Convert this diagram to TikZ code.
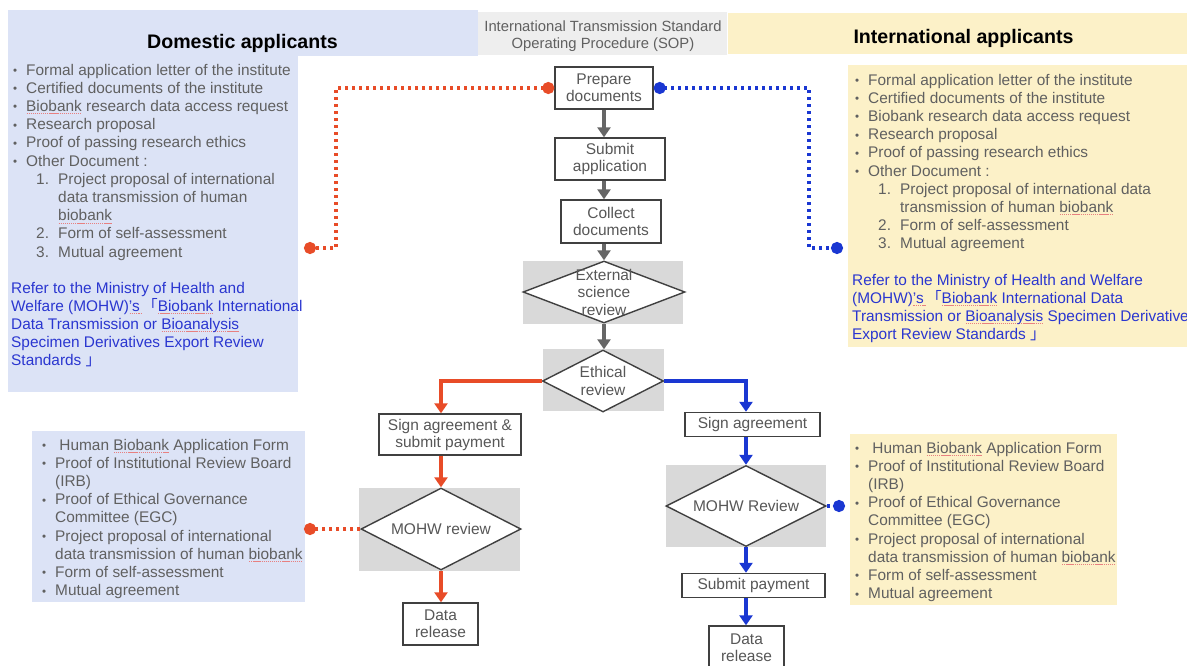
\documentclass[tikz,border=0pt]{standalone}
\usepackage{graphicx}
\usepackage{fontspec}
\setmainfont{Liberation Sans}
\newfontfamily\cjk{Noto Sans CJK SC}
\usetikzlibrary{arrows.meta,shapes.geometric,calc}
\definecolor{pblue}{HTML}{DCE3F6}
\definecolor{pyel}{HTML}{FCF1C8}
\definecolor{sopgrey}{HTML}{EEEEEE}
\definecolor{dgrey}{HTML}{D9D9D9}
\definecolor{txt}{HTML}{606060}
\definecolor{boxtxt}{HTML}{575757}
\definecolor{btxt}{HTML}{2A36D0}
\definecolor{cred}{HTML}{E84C28}
\definecolor{cblue}{HTML}{1A37D2}
\definecolor{garr}{HTML}{666666}
\definecolor{bord}{HTML}{404040}
\definecolor{spell}{HTML}{E88080}
\newsavebox\splbox
\newcommand\spl[1]{\sbox\splbox{#1}\rlap{\textcolor{spell}{\hbox to \wd\splbox{\xleaders\hbox to 2pt{\hss\rule[-2.8pt]{1.3pt}{0.9pt}\hss}\hfill}}}\usebox\splbox}
\newcommand\bitem[1]{\hbox{\makebox[13pt][l]{\raisebox{0.5pt}{\scalebox{0.75}{\textbullet}}}#1}}
\newcommand\numl[2]{\hbox{\hspace*{23pt}\makebox[22pt][l]{#1}#2}}
\newcommand\contl[1]{\hbox{\hspace*{45pt}#1}}
\newcommand\indl[1]{\hbox{\hspace*{13pt}#1}}
\newcommand\plainl[1]{\hbox{#1}}
\begin{document}
\begin{tikzpicture}[x=1pt,y=-1pt,
  lst/.style={inner sep=0pt, text=txt, font=\fontsize{15.4pt}{18.2pt}\selectfont},
  hdr/.style={inner sep=0pt, text=black, font=\fontsize{19.6pt}{22pt}\selectfont\bfseries},
  fbox/.style={draw=bord, line width=1.4pt, fill=white, text=boxtxt, inner sep=0pt,
     align=center, font=\fontsize{15.5pt}{17pt}\selectfont},
  dia/.style={diamond, draw=bord, line width=1.4pt, fill=white, inner sep=0pt},
  dtext/.style={inner sep=0pt, text=boxtxt, align=center, font=\fontsize{15.5pt}{17.5pt}\selectfont},
  garrow/.style={draw=garr, line width=3.5pt, -{Triangle[width=13pt,length=10pt]}},
  rarrow/.style={draw=cred, line width=3.5pt, -{Triangle[width=13pt,length=10pt]}},
  barrow/.style={draw=cblue, line width=3.5pt, -{Triangle[width=13pt,length=10pt]}},
  dotline/.style={line width=3.2pt, dash pattern=on 3.2pt off 3.8pt}
]
\useasboundingbox (0,0) rectangle (1187,665);
\fill[white] (0,0) rectangle (1187,665);
% backgrounds
\fill[pblue] (8,10) rectangle (478,56);
\fill[pblue] (8,56) rectangle (298,392);
\fill[sopgrey] (478,12) rectangle (727,55);
\fill[pyel] (728,13) rectangle (1187,54);
\fill[pyel] (848,65) rectangle (1187,347);
\fill[pblue] (32,431) rectangle (305,602);
\fill[pyel] (850,434) rectangle (1117,605);
\fill[dgrey] (523,261) rectangle (683,324);
\fill[dgrey] (543,349) rectangle (664,411);
\fill[dgrey] (359,488) rectangle (520,571);
\fill[dgrey] (666,465) rectangle (826,547);

% headers
\node[hdr, anchor=base] (dh) at (242.5,48) {Domestic applicants};
\node[hdr, anchor=base] (ih) at (963.5,43.5) {International applicants};
\node[inner sep=0pt, text=txt, align=center, font=\fontsize{14.8pt}{17pt}\selectfont] (sop) at (603,36.5)
  {International Transmission Standard\\Operating Procedure (SOP)};

% text panels
\node[lst, anchor=base west] (dlist) at (13,75) {\vtop{%
\bitem{Formal application letter of the institute}
\bitem{Certified documents of the institute}
\bitem{\spl{Biobank} research data access request}
\bitem{Research proposal}
\bitem{Proof of passing research ethics}
\bitem{Other Document :}
\numl{1.}{Project proposal of international}
\contl{data transmission of human}
\contl{\spl{biobank}}
\numl{2.}{Form of self-assessment}
\numl{3.}{Mutual agreement}}};
\node[lst, text=btxt, anchor=base west] (dref) at (11,293) {\vtop{%
\plainl{Refer to the Ministry of Health and}
\plainl{Welfare (MOHW)\spl{'s\,}{\cjk 「}\spl{Biobank} International}
\plainl{Data Transmission or \spl{Bioanalysis}}
\plainl{Specimen Derivatives Export Review}
\plainl{Standards {\cjk 」}}}};

\node[lst, anchor=base west] (ilist) at (855,85) {\vtop{%
\bitem{Formal application letter of the institute}
\bitem{Certified documents of the institute}
\bitem{Biobank research data access request}
\bitem{Research proposal}
\bitem{Proof of passing research ethics}
\bitem{Other Document :}
\numl{1.}{Project proposal of international data}
\contl{transmission of human \spl{biobank}}
\numl{2.}{Form of self-assessment}
\numl{3.}{Mutual agreement}}};
\node[lst, text=btxt, anchor=base west] (iref) at (852,285) {\vtop{%
\plainl{Refer to the Ministry of Health and Welfare}
\plainl{(MOHW)\spl{'s\,}{\cjk 「}\spl{Biobank} International Data}
\plainl{Transmission or \spl{Bioanalysis} Specimen Derivatives}
\plainl{Export Review Standards {\cjk 」}}}};

\node[lst, anchor=base west] (dlow) at (42,450) {\vtop{%
\bitem{ Human \spl{Biobank} Application Form}
\bitem{Proof of Institutional Review Board}
\indl{(IRB)}
\bitem{Proof of Ethical Governance}
\indl{Committee (EGC)}
\bitem{Project proposal of international}
\indl{data transmission of human \spl{biobank}}
\bitem{Form of self-assessment}
\bitem{Mutual agreement}}};
\node[lst, anchor=base west] (ilow) at (855,453) {\vtop{%
\bitem{ Human \spl{Biobank} Application Form}
\bitem{Proof of Institutional Review Board}
\indl{(IRB)}
\bitem{Proof of Ethical Governance}
\indl{Committee (EGC)}
\bitem{Project proposal of international}
\indl{data transmission of human \spl{biobank}}
\bitem{Form of self-assessment}
\bitem{Mutual agreement}}};

% flow boxes
\node[fbox, minimum width=98pt, minimum height=42pt] (pd) at (604,88) {Prepare\\documents};
\node[fbox, minimum width=110pt, minimum height=42pt] (sa) at (610,159) {Submit\\application};
\node[fbox, minimum width=100pt, minimum height=43pt] (cd) at (611,221.5) {Collect\\documents};
\node[dia, minimum width=162pt, minimum height=62pt] (ext) at (604,292) {};
\node[dtext] (extl) at (ext) {External\\science\\review};
\node[dia, minimum width=121pt, minimum height=62pt] (eth) at (603,381) {};
\node[dtext] (ethl) at (eth) {Ethical\\review};
\node[fbox, minimum width=142pt, minimum height=41pt] (s1) at (450,434.5) {Sign agreement \&\\submit payment};
\node[dia, minimum width=160pt, minimum height=82pt] (m1) at (441,529) {};
\node[dtext] (m1l) at (m1) {MOHW review};
\node[fbox, minimum width=75pt, minimum height=42pt] (dr1) at (440.5,624) {Data\\release};
\node[fbox, minimum width=135pt, minimum height=24pt] (s2) at (752.5,424.5) {Sign agreement};
\node[dia, minimum width=160pt, minimum height=81pt] (m2) at (746,506) {};
\node[dtext] (m2l) at (m2) {MOHW Review};
\node[fbox, minimum width=143pt, minimum height=24pt] (sp) at (753.5,585.5) {Submit payment};
\node[fbox, minimum width=75pt, minimum height=44pt] (dr2) at (746.5,648) {Data\\release};

% endpoints of dotted connectors
\coordinate (rd1) at (304,248);
\coordinate (bd1) at (843,248);
\coordinate (rd2) at (304,529);
\coordinate (bd2) at (845,506);

% gray arrows
\draw[garrow] (pd.south) -- (pd.south |- sa.north);
\draw[garrow] (sa.south -| pd.south) -- (cd.north -| pd.south);
\draw[garrow] (cd.south -| pd.south) -- (ext.north);
\draw[garrow] (ext.south) -- (ext.south |- eth.north);

% red path
\draw[rarrow] (eth.west) -| (s1.north -| m1.north);
\draw[rarrow] (s1.south -| m1.north) -- (m1.north);
\draw[rarrow] (m1.south) -- (dr1.north -| m1.south);
% blue path
\draw[barrow] (eth.east) -| (s2.north -| m2.north);
\draw[barrow] (s2.south -| m2.north) -- (m2.north);
\draw[barrow] (m2.south) -- (sp.north -| m2.south);
\draw[barrow] (sp.south -| m2.south) -- (dr2.north -| m2.south);

% dotted connectors
\draw[dotline, cred, {Circle[length=12pt]}-{Circle[length=12pt]}] (pd.west) -| ([xshift=32pt]rd1) -- (rd1);
\draw[dotline, cblue, {Circle[length=12pt]}-{Circle[length=12pt]}] (pd.east) -| ([xshift=-34pt]bd1) -- (bd1);
\draw[dotline, cred, -{Circle[length=12pt]}] (m1.west) -- (rd2);
\draw[dotline, cblue, -{Circle[length=12pt]}] (m2.east) -- (bd2);
\end{tikzpicture}
\end{document}
